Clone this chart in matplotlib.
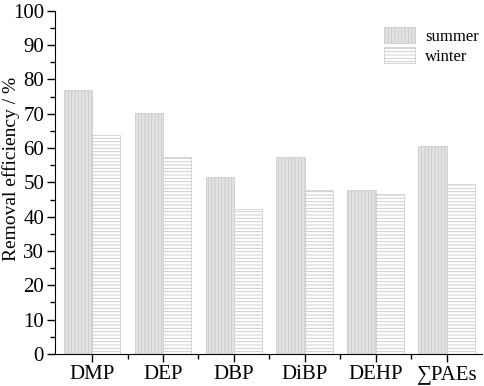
import numpy as np
import matplotlib
matplotlib.use('agg')
import matplotlib.pyplot as plt

categories = ['DMP', 'DEP', 'DBP', 'DiBP', 'DEHP', '\u2211PAEs']
summer = [76.8, 70.3, 51.7, 57.4, 47.7, 60.6]
winter = [63.7, 57.3, 42.3, 47.8, 46.7, 49.5]

plt.rcParams.update({
    'font.family': ['Liberation Serif', 'DejaVu Serif'],
    'hatch.color': '#bdbdbd',
    'hatch.linewidth': 0.6,
})

fig = plt.figure(figsize=(4.84, 3.86), dpi=100)
ax = fig.add_axes([0.114, 0.083, 0.882, 0.889])

x = np.arange(1, len(categories) + 1)
w = 0.4
ax.bar(x - w / 2, summer, w, color='#e3e3e3', edgecolor='#c8c8c8', linewidth=0.5,
       hatch='|||||', label='summer')
ax.bar(x + w / 2, winter, w, color='white', edgecolor='#c8c8c8', linewidth=0.5,
       hatch='-----', label='winter')

ax.set_xlim(0.48, 6.5)
ax.set_ylim(0, 100)
ax.set_yticks(np.arange(0, 101, 10))
ax.set_yticks(np.arange(5, 100, 10), minor=True)
ax.set_xticks(x)
ax.set_xticks(x[:-1] + 0.5, minor=True)
ax.set_xticklabels(categories)
ax.spines['top'].set_visible(False)
ax.spines['right'].set_visible(False)
ax.tick_params(which='major', direction='out', length=6, width=1, labelsize=15, pad=2)
ax.tick_params(which='minor', direction='out', length=3.5, width=1)
ax.set_ylabel('Removal efficiency / %', fontsize=14)
ax.yaxis.set_label_coords(-0.082, 0.54)

ax.legend(loc='upper right', bbox_to_anchor=(0.99, 1 - 27 / 386), bbox_transform=fig.transFigure,
          frameon=False, fontsize=12, borderpad=0, borderaxespad=0,
          handlelength=1.9, handleheight=1.1, labelspacing=0.15, handletextpad=0.6)

fig.savefig('out.png', dpi=100)
